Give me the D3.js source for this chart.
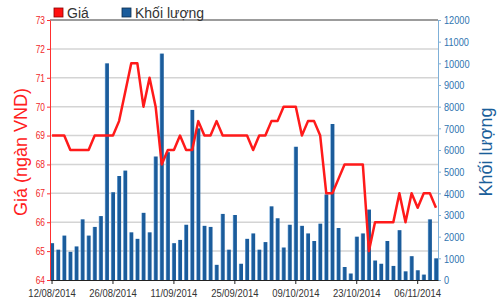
<!DOCTYPE html>
<html lang="vi">
<head>
  <meta charset="UTF-8">
  <title>Giá và khối lượng</title>
  <script src="https://d3js.org/d3.v7.min.js"></script>
  <style>
    body { margin: 0; background: #fff; }
    svg { display: block; font-family: "Liberation Sans", Arial, sans-serif; }
    .axis text { font-family: "Liberation Sans", Arial, sans-serif; }
    .bar { fill: url(#barShade); }
    .price { fill: none; stroke: #ff1a1a; stroke-width: 2.5px; stroke-linejoin: round; }
    .grid line { stroke: #d4d4d4; stroke-width: 1.5px; }
  </style>
</head>
<body>
  <svg width="501" height="300"></svg>

  <script>
    // trading days, one bar + one price point each
    const dates = [
      "12/08/2014","13/08/2014","14/08/2014","15/08/2014","18/08/2014","19/08/2014","20/08/2014","21/08/2014","22/08/2014","25/08/2014",
      "26/08/2014","27/08/2014","28/08/2014","29/08/2014","03/09/2014","04/09/2014","05/09/2014","08/09/2014","09/09/2014","10/09/2014",
      "11/09/2014","12/09/2014","15/09/2014","16/09/2014","17/09/2014","18/09/2014","19/09/2014","22/09/2014","23/09/2014","24/09/2014",
      "25/09/2014","26/09/2014","29/09/2014","30/09/2014","01/10/2014","02/10/2014","03/10/2014","06/10/2014","07/10/2014","08/10/2014",
      "09/10/2014","10/10/2014","13/10/2014","14/10/2014","15/10/2014","16/10/2014","17/10/2014","20/10/2014","21/10/2014","22/10/2014",
      "23/10/2014","24/10/2014","27/10/2014","28/10/2014","29/10/2014","30/10/2014","31/10/2014","03/11/2014","04/11/2014","05/11/2014",
      "06/11/2014","07/11/2014","10/11/2014","11/11/2014"
    ];

    // Giá (ngàn VND)
    const prices = [
      69, 69, 69, 68.5, 68.5, 68.5, 68.5, 69, 69, 69,
      69, 69.5, 70.5, 71.5, 71.5, 70, 71, 70, 68, 68.5,
      68.5, 69, 68.5, 68.5, 69.5, 69, 69, 69.5, 69, 69,
      69, 69, 69, 68.5, 69, 69, 69.5, 69.5, 70, 70,
      70, 69, 69.5, 69.5, 69, 67, 67, 67.5, 68, 68,
      68, 68, 65, 66, 66, 66, 66, 67, 66, 67,
      66.5, 67, 67, 66.5
    ];

    // Khối lượng
    const volumes = [
      1700, 1400, 2050, 1300, 1550, 2800, 2050, 2450, 2950, 10000,
      4050, 4800, 5050, 2200, 1900, 3100, 2200, 5700, 10450, 5900,
      1700, 1850, 2550, 7850, 7000, 2500, 2450, 700, 3050, 1400,
      3000, 750, 1900, 2150, 1400, 1750, 3400, 2850, 1500, 2550,
      6150, 2500, 2150, 1800, 2600, 3950, 7200, 2400, 600, 300,
      2000, 2150, 3250, 900, 750, 1800, 650, 2300, 400, 1100,
      450, 250, 2800, 1000
    ];

    const priceTicks  = [64, 65, 66, 67, 68, 69, 70, 71, 72, 73];
    const volumeTicks = [0, 1000, 2000, 3000, 4000, 5000, 6000, 7000, 8000, 9000, 10000, 11000, 12000];
    const dateTicks   = ["12/08/2014", "26/08/2014", "11/09/2014", "25/09/2014", "09/10/2014", "23/10/2014", "06/11/2014"];

    const svg    = d3.select("svg"),
          margin = { top: 20, right: 63, bottom: 20, left: 50 },
          x0     = margin.left,
          x1     = +svg.attr("width")  - margin.right,
          y0     = margin.top,
          y1     = +svg.attr("height") - margin.bottom;

    const x = d3.scaleBand()
                .domain(dates)
                .range([x0, x1])
                .paddingInner(0.33)
                .paddingOuter(0);
    const yPrice = d3.scaleLinear().domain([64, 73]).range([y1, y0]);
    const yVol   = d3.scaleLinear().domain([0, 12000]).range([y1, y0]);

    const data = dates.map((d, i) => ({ date: d, price: prices[i], volume: volumes[i] }));

    // squeeze axis labels horizontally (the original uses a narrow face)
    function narrow(sel, k) {
      sel.each(function() {
        const w = this.getComputedTextLength();
        d3.select(this).attr("textLength", w * k).attr("lengthAdjust", "spacingAndGlyphs");
      });
    }

    // bar shading: light sliver on the left edge
    const grad = svg.append("defs").append("linearGradient")
      .attr("id", "barShade").attr("x1", 0).attr("x2", 1).attr("y1", 0).attr("y2", 0);
    grad.append("stop").attr("offset", "0%").attr("stop-color", "#7fb3e3");
    grad.append("stop").attr("offset", "28%").attr("stop-color", "#1b5c9b");
    grad.append("stop").attr("offset", "100%").attr("stop-color", "#1b5c9b");

    // gridlines
    svg.append("g").attr("class", "grid")
      .selectAll("line")
      .data(priceTicks.filter(t => t > 64 && t < 73))
      .enter().append("line")
        .attr("x1", x0).attr("x2", x1)
        .attr("y1", d => yPrice(d)).attr("y2", d => yPrice(d));

    // volume bars
    svg.append("g")
      .selectAll("rect")
      .data(data)
      .enter().append("rect")
        .attr("class", "bar")
        .attr("x", d => x(d.date))
        .attr("width", x.bandwidth())
        .attr("y", d => yVol(d.volume))
        .attr("height", d => yVol(0) - yVol(d.volume));

    // price line
    const line = d3.line()
                   .x(d => x(d.date) + x.bandwidth() / 2)
                   .y(d => yPrice(d.price));
    svg.append("path")
      .datum(data)
      .attr("class", "price")
      .attr("d", line);

    // top frame
    svg.append("line")
      .attr("x1", x0).attr("x2", x1)
      .attr("y1", y0).attr("y2", y0)
      .attr("stroke", "#3a3a3a").attr("stroke-width", 1.2);

    // left axis (price)
    const gLeft = svg.append("g")
      .attr("class", "axis")
      .attr("transform", `translate(${x0},0)`)
      .call(d3.axisLeft(yPrice).tickValues(priceTicks).tickSize(3).tickSizeOuter(0).tickPadding(2));
    gLeft.select(".domain").attr("stroke", "#ff3030");
    gLeft.selectAll(".tick line").attr("stroke", "#ff3030");
    gLeft.selectAll("text").attr("fill", "#f02828").attr("font-size", "10.5px").call(narrow, 0.8);

    // right axis (volume)
    const gRight = svg.append("g")
      .attr("class", "axis")
      .attr("transform", `translate(${x1},0)`)
      .call(d3.axisRight(yVol).tickValues(volumeTicks).tickFormat(d3.format("d"))
              .tickSize(3).tickSizeOuter(0).tickPadding(3));
    gRight.select(".domain").attr("stroke", "#7fb0d8");
    gRight.selectAll(".tick line").attr("stroke", "#7fb0d8");
    gRight.selectAll("text").attr("fill", "#2f74b0").attr("font-size", "11.5px").call(narrow, 0.8);

    // bottom axis (dates)
    const gBottom = svg.append("g")
      .attr("class", "axis")
      .attr("transform", `translate(0,${y1})`)
      .call(d3.axisBottom(x).tickValues(dateTicks).tickSize(4).tickSizeOuter(0).tickPadding(5));
    gBottom.select(".domain").attr("stroke", "#222");
    gBottom.selectAll(".tick line").attr("stroke", "#222");
    gBottom.selectAll("text").attr("fill", "#333").attr("font-size", "11px").call(narrow, 0.86);

    // axis titles
    svg.append("text")
      .attr("transform", `translate(27,${(y0 + y1) / 2 + 2}) rotate(-90)`)
      .attr("text-anchor", "middle")
      .attr("font-size", "18px")
      .attr("fill", "#ff2020")
      .text("Giá (ngàn VND)");

    svg.append("text")
      .attr("transform", `translate(492,${(y0 + y1) / 2 + 2}) rotate(-90)`)
      .attr("text-anchor", "middle")
      .attr("font-size", "18px")
      .attr("fill", "#1a5e9a")
      .text("Khối lượng");

    // legend
    const legend = [
      { label: "Giá",        color: "#ff1010", edge: "#8a0000", x: 54 },
      { label: "Khối lượng", color: "#1b5c9b", edge: "#0c2c4c", x: 122 }
    ];
    const lg = svg.append("g").selectAll("g")
      .data(legend)
      .enter().append("g")
        .attr("transform", d => `translate(${d.x},8)`);
    lg.append("rect")
      .attr("width", 9).attr("height", 9)
      .attr("fill", d => d.color)
      .attr("stroke", d => d.edge).attr("stroke-width", 0.8);
    lg.append("text")
      .attr("x", 13).attr("y", 10)
      .attr("font-size", "14px")
      .attr("fill", "#333")
      .text(d => d.label);
  </script>
</body>
</html>
